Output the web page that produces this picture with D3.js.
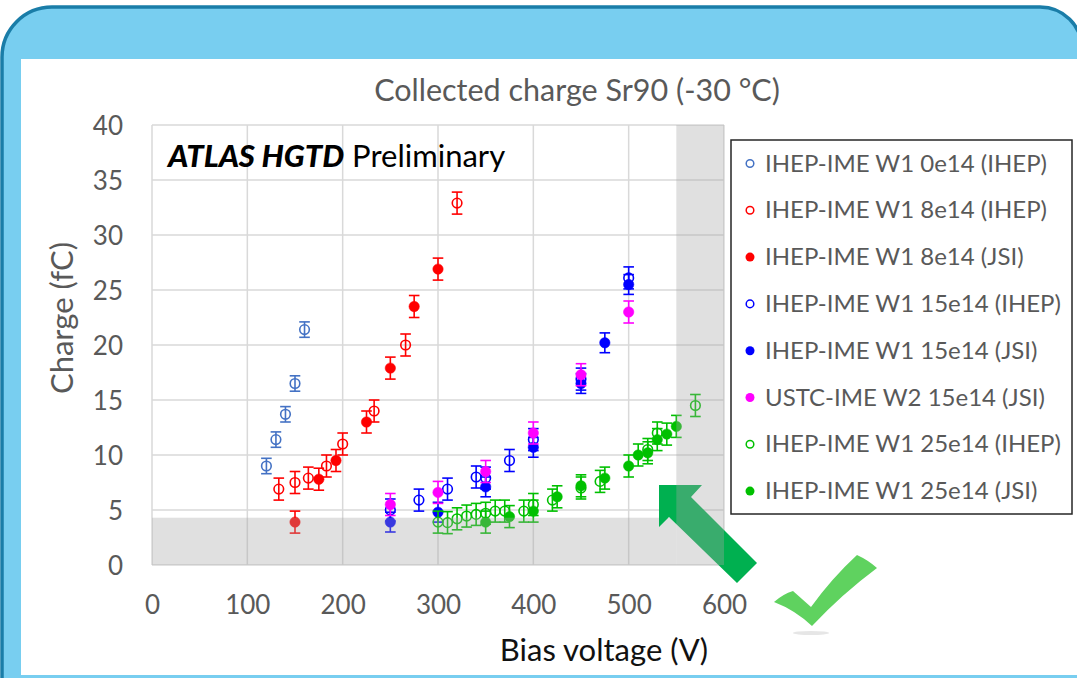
<!DOCTYPE html>
<html>
<head>
<meta charset="utf-8">
<script src="https://cdn.jsdelivr.net/npm/d3@7"></script>
<style>
  body { margin: 0; background: #fff; }
  svg { display: block; font-family: Lato, 'Open Sans', sans-serif; }
</style>
</head>
<body>
<div id="chart"></div>
<script>
// Collected charge vs bias voltage, HGTD sensors (Sr90, -30 C)

const chartTitle = 'Collected charge Sr90 (-30 °C)';
const xLabel = 'Bias voltage (V)';
const yLabel = 'Charge (fC)';
const xTicks = [0, 100, 200, 300, 400, 500, 600];
const yTicks = [0, 5, 10, 15, 20, 25, 30, 35, 40];

const seriesNames = [
  'IHEP-IME W1 0e14 (IHEP)',
  'IHEP-IME W1 8e14 (IHEP)',
  'IHEP-IME W1 8e14 (JSI)',
  'IHEP-IME W1 15e14 (IHEP)',
  'IHEP-IME W1 15e14 (JSI)',
  'USTC-IME W2 15e14 (JSI)',
  'IHEP-IME W1 25e14 (IHEP)',
  'IHEP-IME W1 25e14 (JSI)'
];

// [bias V, charge fC]
const w1_0e14_ihep = [[120, 9.0], [130, 11.4], [140, 13.7], [150, 16.5], [160, 21.4]];
const w1_8e14_ihep = [[133, 6.9], [150, 7.5], [164, 7.9], [183, 9.0], [200, 11.0], [233, 14.0], [266, 20.0], [320, 32.9]];
const w1_8e14_jsi = [[150, 3.9], [175, 7.8], [193, 9.5], [225, 13.0], [250, 17.9], [275, 23.5], [300, 26.9]];
const w1_15e14_ihep = [[250, 5.0], [280, 5.9], [310, 6.9], [340, 8.0], [350, 7.9], [375, 9.5], [400, 11.4], [450, 16.9], [500, 26.1]];
const w1_15e14_jsi = [[250, 3.9], [300, 4.8], [350, 7.1], [400, 10.7], [450, 16.5], [475, 20.2], [500, 25.5]];
const w2_15e14_jsi = [[250, 5.5], [300, 6.6], [350, 8.5], [400, 12.0], [450, 17.3], [500, 23.0]];
const w1_25e14_ihep = [[300, 3.9], [310, 3.85], [320, 4.2], [330, 4.45], [340, 4.6], [350, 4.7], [360, 4.9], [370, 4.9], [390, 4.9], [400, 5.5], [420, 5.9], [450, 7.0], [470, 7.6], [520, 10.5], [530, 12.0], [570, 14.5]];
const w1_25e14_jsi = [[350, 3.9], [375, 4.4], [400, 4.9], [425, 6.2], [450, 7.2], [475, 7.9], [500, 9.0], [510, 10.0], [520, 10.2], [530, 11.4], [540, 11.9], [550, 12.6]];

// error bar half-widths (fC) per series
const seriesErrors = [0.7, 1.0, 1.0, 1.0, 0.9, 1.0, 1.0, 1.0];

// shaded regions: charge below 4.3 fC, bias above 550 V
const lowChargeLimit = 4.3;
const highBiasLimit = 550;

const seriesData = [w1_0e14_ihep, w1_8e14_ihep, w1_8e14_jsi, w1_15e14_ihep, w1_15e14_jsi, w2_15e14_jsi, w1_25e14_ihep, w1_25e14_jsi];
const seriesColors = ['#4472c4', '#ff0000', '#ff0000', '#0000ff', '#0000ff', '#ff00ff', '#00c000', '#00c000'];
const seriesFilled = [false, false, true, false, true, true, false, true];

(function() {
  const W = 1077, H = 678;
  const plot = { left: 152, right: 724, top: 125, bottom: 565 };
  const textGrey = '#595959';

  const svg = d3.select('#chart')
    .append('svg')
    .attr('width', W)
    .attr('height', H);

  // slide frame
  svg.append('path')
    .attr('d', 'M2,690 L2,57 A50,50 0 0 1 52,7 L1040,7 A42,42 0 0 1 1082,49 L1082,690 Z')
    .attr('fill', '#78cef0')
    .attr('stroke', '#1a7da8')
    .attr('stroke-width', 3.5);

  svg.append('rect')
    .attr('x', 21).attr('y', 59)
    .attr('width', W - 21).attr('height', 616)
    .attr('fill', '#fff');

  const x = d3.scaleLinear().domain([0, 600]).range([plot.left, plot.right]);
  const y = d3.scaleLinear().domain([0, 40]).range([plot.bottom, plot.top]);

  // gridlines
  svg.append('g').selectAll('line')
    .data(xTicks).enter().append('line')
    .attr('x1', d => x(d)).attr('x2', d => x(d))
    .attr('y1', plot.top).attr('y2', plot.bottom)
    .attr('stroke', '#d9d9d9').attr('stroke-width', 1.5);

  svg.append('g').selectAll('line')
    .data(yTicks).enter().append('line')
    .attr('x1', plot.left).attr('x2', plot.right)
    .attr('y1', d => y(d)).attr('y2', d => y(d))
    .attr('stroke', '#d9d9d9').attr('stroke-width', 1.5);

  // axes (labels only)
  const yAxis = svg.append('g')
    .attr('transform', `translate(${plot.left}, 0)`)
    .call(d3.axisLeft(y).tickValues(yTicks).tickSize(0).tickPadding(29));
  const xAxis = svg.append('g')
    .attr('transform', `translate(0, ${plot.bottom})`)
    .call(d3.axisBottom(x).tickValues(xTicks).tickSize(0).tickPadding(31));
  [xAxis, yAxis].forEach(a => {
    a.select('.domain').remove();
    a.selectAll('text')
      .attr('font-family', 'Lato, sans-serif')
      .style('font-size', '26px')
      .style('fill', textGrey);
  });
  yAxis.selectAll('text').attr('dy', '0.36em');

  // series: error bars + markers
  const capW = 5.3;
  seriesData.forEach((pts, i) => {
    const g = svg.append('g');
    const col = seriesColors[i];
    const err = seriesErrors[i];
    const eb = g.selectAll('.eb').data(pts).enter().append('g')
      .attr('stroke', col).attr('stroke-width', 1.6);
    eb.append('line')
      .attr('x1', d => x(d[0])).attr('x2', d => x(d[0]))
      .attr('y1', d => y(d[1] - err)).attr('y2', d => y(d[1] + err));
    eb.append('line')
      .attr('x1', d => x(d[0]) - capW).attr('x2', d => x(d[0]) + capW)
      .attr('y1', d => y(d[1] + err)).attr('y2', d => y(d[1] + err));
    eb.append('line')
      .attr('x1', d => x(d[0]) - capW).attr('x2', d => x(d[0]) + capW)
      .attr('y1', d => y(d[1] - err)).attr('y2', d => y(d[1] - err));

    g.selectAll('circle').data(pts).enter().append('circle')
      .attr('cx', d => x(d[0]))
      .attr('cy', d => y(d[1]))
      .attr('r', seriesFilled[i] ? 5.2 : 4.8)
      .attr('fill', seriesFilled[i] ? col : 'none')
      .attr('stroke', col)
      .attr('stroke-width', seriesFilled[i] ? 0.5 : 1.6);
  });

  const shade = 'rgba(165,165,165,0.345)';

  // low charge band
  svg.append('rect')
    .attr('x', x(0)).attr('y', y(lowChargeLimit))
    .attr('width', x(highBiasLimit) - x(0))
    .attr('height', y(0) - y(lowChargeLimit))
    .attr('fill', shade);

  // green arrow pointing at the 25e14 points
  svg.append('path')
    .attr('d', 'M659,485 L702,485 L691,497 L757,563 L737,583 L669,517 L659,527 Z')
    .attr('fill', '#00b050');

  // high bias band (on top of arrow)
  svg.append('rect')
    .attr('x', x(highBiasLimit)).attr('y', y(40))
    .attr('width', x(600) - x(highBiasLimit))
    .attr('height', y(0) - y(40))
    .attr('fill', shade);

  // check mark
  svg.append('ellipse')
    .attr('cx', 811).attr('cy', 633).attr('rx', 18).attr('ry', 2)
    .attr('fill', '#e6e6e6');
  svg.append('path')
    .attr('d', 'M774,602 Q783,594 793,591 L811,607 Q832,578 857,555 Q868,560 877,568 Q842,594 812,626 Q795,610 774,602 Z')
    .attr('fill', '#5fd25f');

  // titles
  svg.append('text')
    .attr('x', 577).attr('y', 101)
    .attr('text-anchor', 'middle')
    .style('font-size', '30.5px')
    .style('fill', textGrey)
    .text(chartTitle);

  svg.append('text')
    .attr('x', 604).attr('y', 661)
    .attr('text-anchor', 'middle')
    .style('font-size', '31px')
    .style('fill', '#111')
    .text(xLabel);

  svg.append('text')
    .attr('transform', 'translate(73, 318) rotate(-90)')
    .attr('text-anchor', 'middle')
    .style('font-size', '31px')
    .style('fill', textGrey)
    .text(yLabel);

  const atlas = svg.append('text')
    .attr('x', 168).attr('y', 167)
    .style('font-size', '31px')
    .style('fill', '#000');
  atlas.append('tspan')
    .style('font-weight', '900').style('font-style', 'italic')
    .text('ATLAS HGTD');
  atlas.append('tspan').text(' Preliminary');

  // legend
  const legend = svg.append('g');
  legend.append('rect')
    .attr('x', 731).attr('y', 140)
    .attr('width', 341).attr('height', 374)
    .attr('fill', '#fff')
    .attr('stroke', '#262626').attr('stroke-width', 1.5);

  const items = legend.selectAll('.legend-item')
    .data(seriesNames).enter().append('g')
    .attr('class', 'legend-item')
    .attr('transform', (d, i) => `translate(750, ${163.5 + i * 46.8})`);

  items.append('circle')
    .attr('r', (d, i) => seriesFilled[i] ? 4.5 : 3.8)
    .attr('fill', (d, i) => seriesFilled[i] ? seriesColors[i] : 'none')
    .attr('stroke', (d, i) => seriesColors[i])
    .attr('stroke-width', (d, i) => seriesFilled[i] ? 0 : 1.5);

  items.append('text')
    .attr('x', 15).attr('y', 8)
    .style('font-size', '24px')
    .style('fill', textGrey)
    .text(d => d);
})();
</script>
</body>
</html>
